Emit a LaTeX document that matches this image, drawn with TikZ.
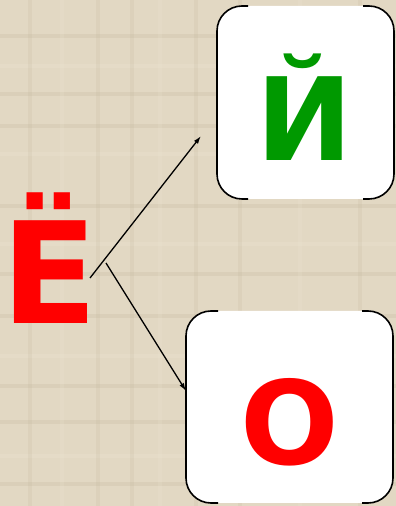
\documentclass[tikz,border=0pt]{standalone}
\usepackage{fontspec}
\setmainfont{DejaVu Sans}
\usetikzlibrary{arrows.meta}
\definecolor{parch}{RGB}{226,216,195}
\definecolor{parchdark}{RGB}{190,176,150}
\definecolor{parchlight}{RGB}{240,232,216}
\definecolor{lettergreen}{RGB}{0,153,0}
\definecolor{letterred}{RGB}{255,0,0}
\tikzset{
  card/.style={fill=white, draw=none, rounded corners=25pt},
  cardedge/.style={draw=black, line width=1.6pt, rounded corners=25pt},
  bigletter/.style={inner sep=0pt, anchor=base},
  link/.style={draw=black, line width=1.3pt, -{Latex[length=8pt,width=5pt]}},
  stripe/.style={line width=4pt, opacity=0.22},
}
\begin{document}
\begin{tikzpicture}[x=1pt,y=1pt]
\useasboundingbox (0,0) rectangle (396,506);
\fill[parch] (0,0) rectangle (396,506);
% subtle texture
\foreach \y/\c in {470/parchdark,440/parchlight,412/parchdark,380/parchdark,352/parchlight,300/parchdark,262/parchlight,232/parchdark,190/parchdark,150/parchlight,120/parchdark,84/parchdark,50/parchlight,22/parchdark}{
  \draw[stripe,\c] (0,\y) -- (396,\y);
}
\foreach \x/\c in {30/parchdark,62/parchlight,98/parchdark,132/parchdark,160/parchlight,196/parchdark,240/parchdark,300/parchlight,360/parchdark}{
  \draw[stripe,\c,opacity=0.16] (\x,0) -- (\x,506);
}
% top card
\fill[card] (217,307) rectangle (394,500);
\draw[cardedge] (248,500) -- (217,500) -- (217,307) -- (248,307);
\draw[cardedge] (363,500) -- (394,500) -- (394,307) -- (363,307);
% bottom card
\fill[card] (186,3) rectangle (393,195);
\draw[cardedge] (218,195) -- (186,195) -- (186,3) -- (218,3);
\draw[cardedge] (362,195) -- (393,195) -- (393,3) -- (362,3);
% letters
\node[bigletter, text=letterred, font=\fontsize{141}{141}\selectfont\bfseries] (yo) at (50,182) {Ё};
\node[bigletter, text=lettergreen, font=\fontsize{115}{115}\selectfont\bfseries] (yi) at (305,345) {Й};
\node[bigletter, text=letterred, font=\fontsize{116}{116}\selectfont\bfseries] (o) at (290,41) {О};
% arrows
\coordinate (s1) at (90,228);
\coordinate (t1) at (201,370);
\coordinate (s2) at (106,243);
\coordinate (t2) at (186,115);
\draw[link] (s1) -- (t1);
\draw[link] (s2) -- (t2);
\end{tikzpicture}
\end{document}
